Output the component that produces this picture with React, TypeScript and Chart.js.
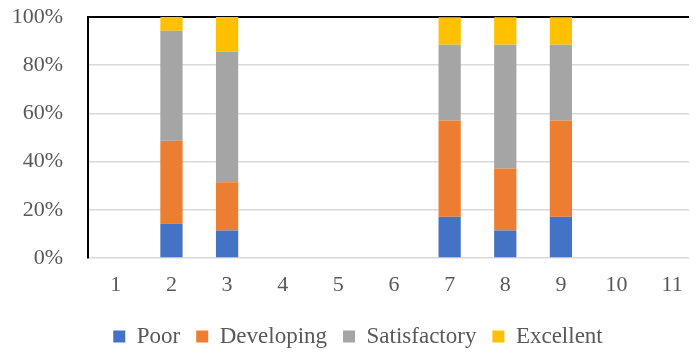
import React, { useEffect, useRef } from "react";
import { Chart, registerables } from "chart.js";

Chart.register(...registerables);

const categories = ["1", "2", "3", "4", "5", "6", "7", "8", "9", "10", "11"];
const poor = [0, 14.3, 11.4, 0, 0, 0, 17.1, 11.4, 17.1, 0, 0];
const developing = [0, 34.3, 20.0, 0, 0, 0, 40.0, 25.7, 40.0, 0, 0];
const satisfactory = [0, 45.7, 54.3, 0, 0, 0, 31.4, 51.4, 31.4, 0, 0];
const excellent = [0, 5.7, 14.3, 0, 0, 0, 11.4, 11.4, 11.4, 0, 0];
const yTicks = [0, 20, 40, 60, 80, 100];

const FONT = "'Liberation Serif', 'Times New Roman', serif";
const TEXT = "#595959";

const legendShift = {
  id: "legendShift",
  afterLayout(chart: any) {
    if (chart.legend) {
      chart.legend.left += 4;
      chart.legend.right += 4;
    }
  },
};

export default function App() {
  const ref = useRef<HTMLCanvasElement | null>(null);

  useEffect(() => {
    if (!ref.current) return;
    const mk = (label: string, data: number[], color: string) => ({
      label,
      data,
      backgroundColor: color,
      borderWidth: 0,
      barPercentage: 0.4,
      categoryPercentage: 1,
    });
    const chart = new Chart(ref.current, {
      type: "bar",
      data: {
        labels: categories,
        datasets: [
          mk("Poor", poor, "#4472C4"),
          mk("Developing", developing, "#ED7D31"),
          mk("Satisfactory", satisfactory, "#A5A5A5"),
          mk("Excellent", excellent, "#FFC000"),
        ],
      },
      plugins: [legendShift],
      options: {
        animation: false,
        responsive: false,
        layout: { padding: { left: 0, right: 8, top: 9, bottom: 0 } },
        plugins: {
          tooltip: { enabled: false },
          legend: {
            position: "bottom",
            labels: {
              boxWidth: 12,
              boxHeight: 12,
              padding: 16,
              color: TEXT,
              font: { family: FONT, size: 23 },
            },
          },
        },
        scales: {
          x: {
            stacked: true,
            grid: { display: false, drawTicks: false },
            border: { display: false },
            ticks: {
              color: TEXT,
              font: { family: FONT, size: 22 },
              padding: 14,
              maxRotation: 0,
            },
            afterFit: (s: any) => {
              s.height = 51;
            },
          },
          y: {
            stacked: true,
            min: 0,
            max: 100,
            afterBuildTicks: (s: any) => {
              s.ticks = yTicks.map((v) => ({ value: v }));
            },
            grid: {
              drawTicks: false,
              color: (c: any) => (c.tick && c.tick.value === 100 ? "#000000" : "#D9D9D9"),
              lineWidth: (c: any) => (c.tick && c.tick.value === 100 ? 2 : 1.5),
            },
            border: { display: true, color: "#000000", width: 2 },
            ticks: {
              color: TEXT,
              font: { family: FONT, size: 22 },
              padding: 25,
              callback: (v: any) => v + "%",
            },
            afterFit: (s: any) => {
              s.width = 80;
              s.paddingTop = 0;
              s.paddingBottom = 0;
            },
          },
        },
      },
    });
    return () => chart.destroy();
  }, []);

  return (
    <div style={{ width: 700, height: 350 }}>
      <canvas ref={ref} width={700} height={350} style={{ display: "block" }} />
    </div>
  );
}
